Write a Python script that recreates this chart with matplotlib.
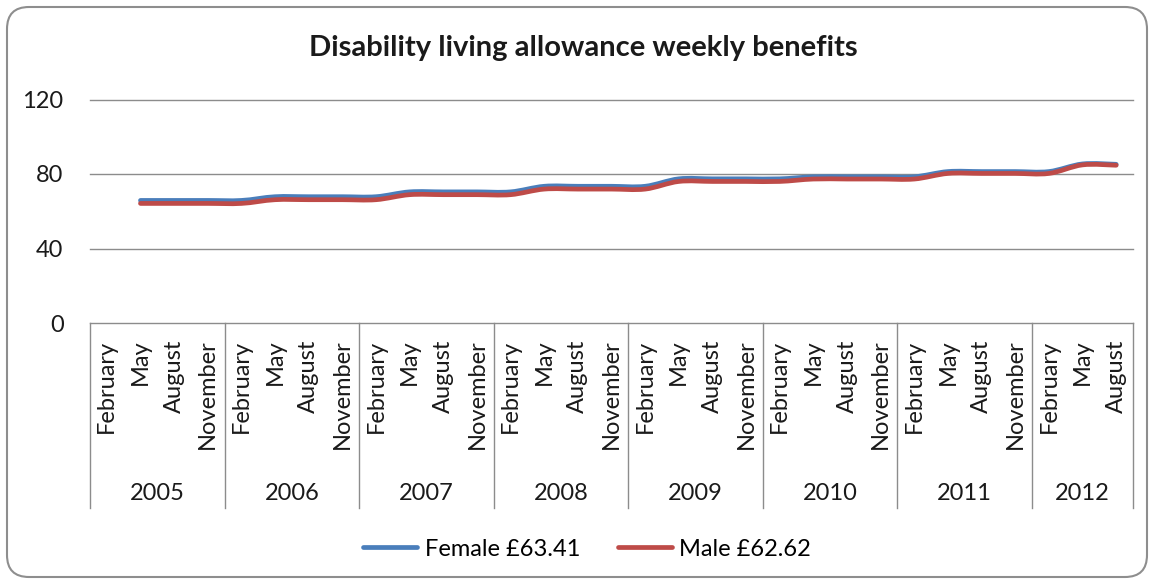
import matplotlib

matplotlib.use("Agg")
import matplotlib.pyplot as plt
import numpy as np
from matplotlib.lines import Line2D
from matplotlib.patches import FancyBboxPatch, PathPatch
from matplotlib.path import Path
from matplotlib.transforms import blended_transform_factory

plt.rcParams["font.family"] = ["Lato", "DejaVu Sans"]

YEARS = ["2005", "2006", "2007", "2008", "2009", "2010", "2011", "2012"]
MONTHS_PER_YEAR = [4, 4, 4, 4, 4, 4, 4, 3]
MONTH_NAMES = ["February", "May", "August", "November"]

# weekly amounts (GBP), February 2005 not available
FEMALE = [np.nan, 65.8, 65.8, 65.8,
          65.8, 67.8, 67.8, 67.8,
          67.8, 70.4, 70.4, 70.4,
          70.4, 73.4, 73.4, 73.4,
          73.4, 77.4, 77.4, 77.4,
          77.4, 78.5, 78.5, 78.5,
          78.5, 81.3, 81.3, 81.3,
          81.3, 85.4, 85.2]
MALE = [np.nan, 64.2, 64.2, 64.2,
        64.2, 66.2, 66.2, 66.2,
        66.2, 68.9, 68.9, 68.9,
        68.9, 71.9, 71.9, 71.9,
        71.9, 76.0, 76.0, 76.0,
        76.0, 77.3, 77.3, 77.3,
        77.3, 80.3, 80.3, 80.3,
        80.3, 84.9, 84.7]
LEGEND_LABELS = ["Female £63.41", "Male £62.62"]
Y_TICKS = [0, 40, 80, 120]

BLUE = "#4A7EBB"
RED = "#BE4B48"
GRID = "#8C8C8C"
TEXT = "#1a1a1a"
FONT_SIZE = 17


def smooth_path(xs, ys):
    """Bezier path through the points, like Excel's smoothed line."""
    pts = np.column_stack([xs, ys])
    pts = pts[~np.isnan(pts[:, 1])]
    verts = [pts[0]]
    codes = [Path.MOVETO]
    n = len(pts)
    for i in range(n - 1):
        p0 = pts[max(i - 1, 0)]
        p1 = pts[i]
        p2 = pts[i + 1]
        p3 = pts[min(i + 2, n - 1)]
        c1 = p1 + (p2 - p0) / 6.0
        c2 = p2 - (p3 - p1) / 6.0
        verts += [c1, c2, p2]
        codes += [Path.CURVE4] * 3
    return Path(verts, codes)


month_labels = []
for count in MONTHS_PER_YEAR:
    month_labels += MONTH_NAMES[:count]
x = np.arange(len(month_labels), dtype=float)

fig = plt.figure(figsize=(11.52, 5.81), dpi=100)
fig.patch.set_facecolor("white")

border = FancyBboxPatch(
    (0.07, 0.04), 11.40, 5.70,
    boxstyle="round,pad=0,rounding_size=0.22",
    transform=fig.dpi_scale_trans, facecolor="none", edgecolor="#8E8E8E",
    linewidth=1.5, zorder=-1,
)
fig.patches.append(border)

ax = fig.add_axes([90 / 1152, 1 - 323 / 581, (1133 - 90) / 1152, (323 - 99.5) / 581])
ax.set_facecolor("none")
ax.set_xlim(-0.5, len(x) - 0.5)
ax.set_ylim(0, 120)
ax.set_yticks(Y_TICKS)
ax.set_yticklabels([str(t) for t in Y_TICKS], fontsize=FONT_SIZE, color=TEXT)
ax.tick_params(axis="y", length=0, pad=19)
ax.set_xticks([])
for name in ["left", "right", "top"]:
    ax.spines[name].set_visible(False)
ax.spines["bottom"].set_color(GRID)
ax.spines["bottom"].set_linewidth(1.0)
for t in Y_TICKS[1:]:
    ax.axhline(t, color=GRID, linewidth=1.0, zorder=1, clip_on=False)

for series, color in [(FEMALE, BLUE), (MALE, RED)]:
    patch = PathPatch(smooth_path(x, np.asarray(series, dtype=float)), facecolor="none",
                      edgecolor=color, linewidth=3.4, capstyle="round",
                      joinstyle="round", zorder=3)
    ax.add_patch(patch)

# multi-level category axis
trans = blended_transform_factory(ax.transData, ax.transAxes)
table_bottom = -185 / 223.5
bounds = np.concatenate([[0], np.cumsum(MONTHS_PER_YEAR)]) - 0.5
for b in bounds:
    ax.plot([b, b], [0, table_bottom], transform=trans, color=GRID,
            linewidth=1.0, clip_on=False)

for xi, label in zip(x, month_labels):
    ax.annotate(label, xy=(xi, 0), xycoords=trans, xytext=(0, -12),
                textcoords="offset points", rotation=90, ha="center", va="top",
                fontsize=FONT_SIZE, color=TEXT)

for year, lo, hi in zip(YEARS, bounds[:-1], bounds[1:]):
    ax.annotate(year, xy=((lo + hi) / 2, 0), xycoords=trans, xytext=(0, -122.5),
                textcoords="offset points", ha="center", va="center",
                fontsize=FONT_SIZE, color=TEXT)

fig.text(583 / 1152, 1 - 48 / 581, "Disability living allowance weekly benefits",
         ha="center", va="center", fontsize=21, fontweight="bold", color=TEXT)

handles = [Line2D([], [], color=BLUE, linewidth=3.4, solid_capstyle="round"),
           Line2D([], [], color=RED, linewidth=3.4, solid_capstyle="round")]
fig.legend(handles, LEGEND_LABELS, loc="center", bbox_to_anchor=(587 / 1152, 1 - 549 / 581),
           ncol=2, frameon=False, fontsize=FONT_SIZE, handlelength=2.3, handletextpad=0.3,
           columnspacing=1.6)

fig.savefig("out.png", dpi=100)
plt.close(fig)
